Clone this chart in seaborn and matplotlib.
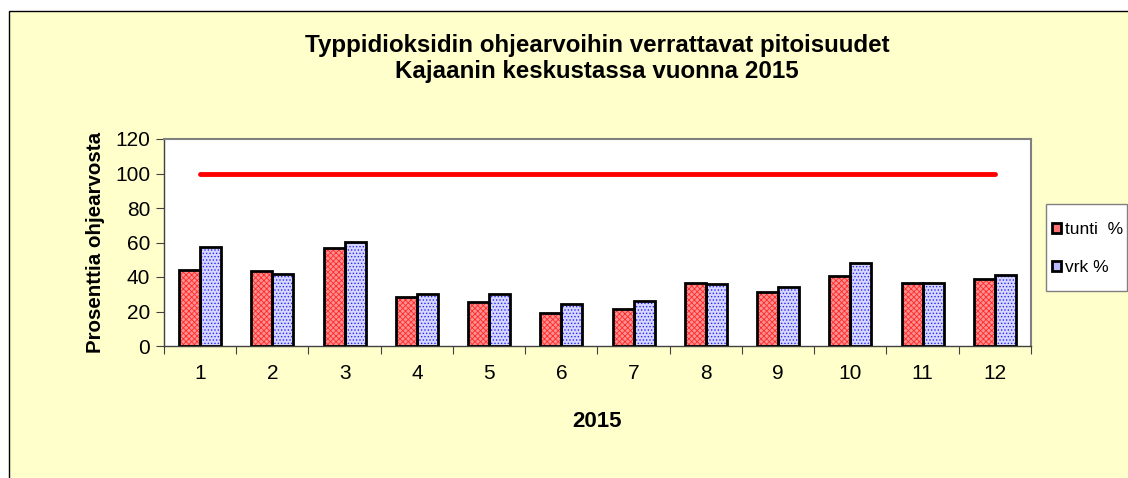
import numpy as np
import pandas as pd
import seaborn as sns
import matplotlib.pyplot as plt
from matplotlib.patches import Rectangle, Patch

# data
months = ["1", "2", "3", "4", "5", "6", "7", "8", "9", "10", "11", "12"]
tunti = [44.0, 43.7, 56.8, 28.4, 25.7, 19.3, 21.3, 36.3, 31.1, 40.4, 36.3, 38.8]
vrk = [57.4, 41.7, 60.1, 30.0, 30.3, 24.2, 26.3, 35.8, 34.0, 48.1, 36.3, 41.2]
limit = [100] * 12
series = ["tunti  %", "vrk %"]

title = "Typpidioksidin ohjearvoihin verrattavat pitoisuudet\nKajaanin keskustassa vuonna 2015"
ylabel = "Prosenttia ohjearvosta"
xlabel = "2015"

df = pd.DataFrame({
    "month": months * 2,
    "value": tunti + vrk,
    "series": [series[0]] * 12 + [series[1]] * 12,
})

sns.set_theme(style="white")
plt.rcParams["font.family"] = ["Liberation Sans", "DejaVu Sans"]
plt.rcParams["hatch.linewidth"] = 0.6
plt.rcParams["text.color"] = "black"
plt.rcParams["axes.labelcolor"] = "black"
plt.rcParams["xtick.labelcolor"] = "black"
plt.rcParams["ytick.labelcolor"] = "black"

fig = plt.figure(figsize=(11.28, 4.78), dpi=100, facecolor="white")
# yellow chart area with black frame (cut at right/bottom like the original)
frame = Rectangle((9 / 1128, -0.05), 1.1, 1 - 11 / 478 + 0.05,
                  transform=fig.transFigure, facecolor="#FFFFCC",
                  edgecolor="black", lw=1.0, zorder=-10)
fig.add_artist(frame)

ax = fig.add_axes([164 / 1128, 1 - 346 / 478, (1031 - 164) / 1128, (346 - 139) / 478])
ax.set_facecolor("white")

fills = {series[0]: "#FF9090", series[1]: "#D6D6FF"}
hatch_col = ["#FF2A2A", "#2828FF"]
hatches = ["xxxxxx", "....."]

sns.barplot(data=df, x="month", y="value", hue="series", order=months,
            hue_order=series, palette=fills, width=0.58, dodge=True,
            saturation=1, legend=False, ax=ax)

for i, cont in enumerate(ax.containers):
    for bar in cont:
        bar.set_hatch(hatches[i])
        bar.set_edgecolor(hatch_col[i])
        bar.set_linewidth(0)
        ax.add_patch(Rectangle(bar.get_xy(), bar.get_width(), bar.get_height(),
                               fill=False, edgecolor="black", lw=2.0, zorder=3))

sns.pointplot(x=months, y=limit, order=months, color="#FF0000", markers="",
              linestyles="-", linewidth=3.5, ax=ax)
for ln in ax.lines:
    ln.set_solid_capstyle("round")

ax.set_ylim(0, 120)
ax.set_xlim(-0.5, 11.5)
ax.set_yticks(range(0, 121, 20))
ax.set_xticks(range(12))
ax.set_xticklabels(months)
ax.set_xticks(np.arange(-0.5, 12, 1), minor=True)
ax.tick_params(axis="x", which="major", length=0, pad=13, labelsize=15)
ax.tick_params(axis="x", which="minor", length=6, width=0.8, color="#404040", direction="out", bottom=True)
ax.tick_params(axis="y", length=6, width=0.8, color="#404040", direction="out", left=True, labelsize=15, pad=4)

for side in ["top", "right"]:
    ax.spines[side].set_color("#808080")
    ax.spines[side].set_linewidth(1.5)
for side in ["left", "bottom"]:
    ax.spines[side].set_color("#404040")
    ax.spines[side].set_linewidth(1.0)

ax.set_ylabel(ylabel, fontsize=14.8, fontweight="bold", labelpad=7)
ax.set_xlabel(xlabel, fontsize=16, fontweight="bold", labelpad=20)

fig.text(597 / 1128, 1 - 58.5 / 478, title, ha="center", va="center",
         fontsize=17.4, fontweight="bold", linespacing=1.2)

# legend box drawn as its own frame, entries placed inside it
fig.add_artist(Rectangle((1046 / 1128, 1 - 291 / 478), 81 / 1128, 87 / 478,
                         transform=fig.transFigure, facecolor="white",
                         edgecolor="#808080", lw=1.0, zorder=1))
handles = [Patch(facecolor="#FF7070", edgecolor="black", lw=2),
           Patch(facecolor="#B8B8FF", edgecolor="black", lw=2)]
leg = fig.legend(handles, series, loc="center left",
                 bbox_to_anchor=(1052 / 1128, 1 - 248.5 / 478),
                 frameon=False, fontsize=12.5,
                 handlelength=0.5, handleheight=0.5, handletextpad=0.25,
                 labelspacing=1.35, borderpad=0, borderaxespad=0)
leg.set_zorder(2)

fig.savefig("out.png", dpi=100, facecolor=fig.get_facecolor())
